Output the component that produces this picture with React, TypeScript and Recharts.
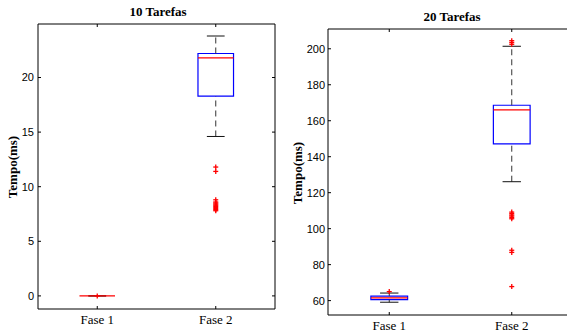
import React from 'react';
import { ComposedChart, XAxis, YAxis, Scatter, ReferenceArea, ReferenceLine } from 'recharts';

const categories = ['Fase 1', 'Fase 2'];
const positions = [1, 2];

// 10 Tarefas
const min10 = [0, 14.6];
const q1of10 = [0, 18.3];
const median10 = [0, 21.8];
const q3of10 = [0, 22.2];
const max10 = [0, 23.8];
const outliers10 = [[0], [11.8, 11.4, 8.8, 8.6, 8.5, 8.4, 8.3, 8.2, 8.1, 8.0, 7.9, 7.8]];
const ticks10 = [0, 5, 10, 15, 20];

// 20 Tarefas
const min20 = [59.1, 126.1];
const q1of20 = [60.5, 147.1];
const median20 = [61.5, 166.0];
const q3of20 = [62.5, 168.6];
const max20 = [64.2, 201.4];
const outliers20 = [
    [65.0],
    [204.5, 203.5, 202.5, 109.2, 108.4, 107.6, 107.0, 106.2, 105.5, 88.0, 86.8, 67.8]
];
const ticks20 = [60, 80, 100, 120, 140, 160, 180, 200];

const SERIF = '"Liberation Serif", "Times New Roman", serif';
const SANS = '"Liberation Sans", Arial, sans-serif';
const BOX_HALF = 0.15;
const CAP_HALF = 0.075;

const Plus = (props: any) => {
    const { cx, cy } = props;
    if (cx == null || cy == null) return null;
    return (
        <g>
            <line x1={cx - 2.5} x2={cx + 2.5} y1={cy} y2={cy} stroke="#ff0000" strokeWidth={1.3} />
            <line x1={cx} x2={cx} y1={cy - 2.5} y2={cy + 2.5} stroke="#ff0000" strokeWidth={1.3} />
        </g>
    );
};

const Nothing = () => null;

interface BoxChartProps {
    width: number;
    height: number;
    marginTop: number;
    marginRight: number;
    yAxisWidth: number;
    xAxisHeight: number;
    yTickMargin: number;
    domain: [number, number];
    ticks: number[];
    mins: number[];
    q1s: number[];
    medians: number[];
    q3s: number[];
    maxs: number[];
    outliers: number[][];
}

const BoxChart: React.FC<BoxChartProps> = (p) => {
    const points = p.outliers.flatMap((vals, i) => vals.map((v) => ({ x: positions[i], y: v })));

    const marks: React.ReactNode[] = [];
    positions.forEach((x, i) => {
        // whiskers
        marks.push(
            <ReferenceLine key={`wu-${i}`} segment={[{ x, y: p.q3s[i] }, { x, y: p.maxs[i] }]}
                stroke="#333" strokeDasharray="6 4" strokeWidth={1} ifOverflow="visible" />
        );
        marks.push(
            <ReferenceLine key={`wl-${i}`} segment={[{ x, y: p.mins[i] }, { x, y: p.q1s[i] }]}
                stroke="#333" strokeDasharray="6 4" strokeWidth={1} ifOverflow="visible" />
        );
        // caps
        marks.push(
            <ReferenceLine key={`cu-${i}`} segment={[{ x: x - CAP_HALF, y: p.maxs[i] }, { x: x + CAP_HALF, y: p.maxs[i] }]}
                stroke="#111" strokeWidth={1} ifOverflow="visible" />
        );
        marks.push(
            <ReferenceLine key={`cl-${i}`} segment={[{ x: x - CAP_HALF, y: p.mins[i] }, { x: x + CAP_HALF, y: p.mins[i] }]}
                stroke="#111" strokeWidth={1} ifOverflow="visible" />
        );
        // box
        marks.push(
            <ReferenceArea key={`b-${i}`} x1={x - BOX_HALF} x2={x + BOX_HALF} y1={p.q1s[i]} y2={p.q3s[i]}
                fill="#ffffff" fillOpacity={0} stroke="#0000ff" strokeWidth={1.2} strokeOpacity={1} ifOverflow="visible" />
        );
        // median
        marks.push(
            <ReferenceLine key={`m-${i}`} segment={[{ x: x - BOX_HALF, y: p.medians[i] }, { x: x + BOX_HALF, y: p.medians[i] }]}
                stroke="#ff0000" strokeWidth={1.2} ifOverflow="visible" />
        );
    });

    return (
        <ComposedChart width={p.width} height={p.height}
            margin={{ top: p.marginTop - 1, right: p.marginRight - 1, bottom: 0, left: 0 }}>
            <XAxis type="number" dataKey="x" domain={[0.5, 2.5]} ticks={positions} allowDataOverflow
                interval={0} height={p.xAxisHeight} tickSize={-3} tickMargin={9} stroke="#000"
                tickFormatter={(v: number) => categories[v - 1]}
                tick={{ fill: '#000', fontFamily: SERIF, fontSize: 13 }} />
            <XAxis xAxisId="top" orientation="top" type="number" dataKey="x" domain={[0.5, 2.5]} ticks={positions}
                allowDataOverflow interval={0} height={1} tickSize={-3} stroke="#000" tickFormatter={() => ''} />
            <YAxis type="number" domain={p.domain} ticks={p.ticks} allowDataOverflow interval={0}
                width={p.yAxisWidth} tickSize={-3} tickMargin={p.yTickMargin} stroke="#000"
                tick={{ fill: '#000', fontFamily: SANS, fontSize: 11 }} />
            <YAxis yAxisId="right" orientation="right" type="number" domain={p.domain} ticks={p.ticks}
                allowDataOverflow interval={0} width={1} tickSize={-3} stroke="#000" tickFormatter={() => ''} />
            {marks}
            <Scatter data={points} dataKey="y" shape={<Plus />} isAnimationActive={false} />
            <Scatter xAxisId="top" yAxisId="right" data={points} dataKey="y" shape={<Nothing />}
                isAnimationActive={false} legendType="none" />
        </ComposedChart>
    );
};

const textStyle = (left: number, top: number, rotate = false): React.CSSProperties => ({
    position: 'absolute',
    left,
    top,
    transform: `translate(-50%, -50%)${rotate ? ' rotate(-90deg)' : ''}`,
    fontFamily: SERIF,
    fontWeight: 'bold',
    fontSize: 13,
    lineHeight: '13px',
    whiteSpace: 'nowrap',
    color: '#000'
});

const App: React.FC = () => (
    <div style={{ position: 'absolute', left: 0, top: 0, width: 567, height: 335, overflow: 'hidden', background: '#fff' }}>
        <div style={{ position: 'absolute', left: 0, top: 0 }}>
            <BoxChart width={290} height={335} marginTop={24} marginRight={15} yAxisWidth={38}
                xAxisHeight={26} yTickMargin={7} domain={[-1.2, 24.9]} ticks={ticks10}
                mins={min10} q1s={q1of10} medians={median10} q3s={q3of10} maxs={max10} outliers={outliers10} />
        </div>
        <div style={{ position: 'absolute', left: 290, top: 0 }}>
            <BoxChart width={284} height={335} marginTop={29} marginRight={1} yAxisWidth={38}
                xAxisHeight={20} yTickMargin={6} domain={[52, 211]} ticks={ticks20}
                mins={min20} q1s={q1of20} medians={median20} q3s={q3of20} maxs={max20} outliers={outliers20} />
        </div>
        <div style={textStyle(158, 11)}>10 Tarefas</div>
        <div style={textStyle(452, 16)}>20 Tarefas</div>
        <div style={textStyle(12, 167, true)}>Tempo(ms)</div>
        <div style={textStyle(297, 173, true)}>Tempo(ms)</div>
    </div>
);

export default App;
